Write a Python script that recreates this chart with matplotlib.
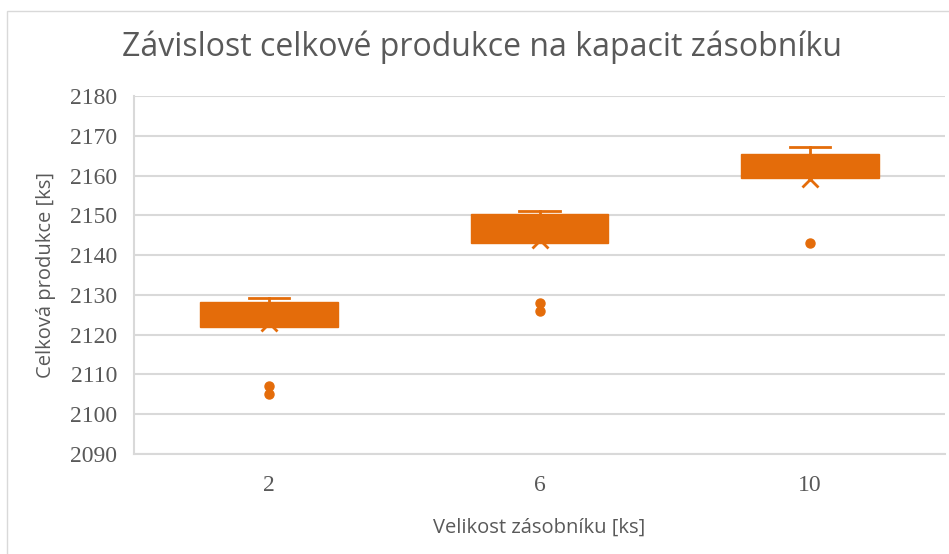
import matplotlib.pyplot as plt
from matplotlib.patches import Rectangle

# values (ks)
categories = ["2", "6", "10"]
q1 = [2122.0, 2143.0, 2159.3]
q3 = [2128.3, 2150.4, 2165.4]
medians = [2126.0, 2148.0, 2163.0]
whisker_hi = [2129.1, 2151.2, 2167.2]
means = [2123.0, 2143.8, 2159.2]
outliers = [[2107.0, 2105.0], [2128.0, 2126.0], [2143.0]]

ORANGE = "#E46C0A"
GRID = "#D9D9D9"
TEXT = "#595959"

stats = []
for i, name in enumerate(categories):
    stats.append(
        dict(
            label=name,
            q1=q1[i],
            q3=q3[i],
            med=medians[i],
            whislo=q1[i],
            whishi=whisker_hi[i],
            mean=means[i],
            fliers=outliers[i],
        )
    )

fig = plt.figure(figsize=(9.49, 5.54), dpi=100)
ax = fig.add_axes([0.141, 0.1805, 0.855, 0.6462])

bp = ax.bxp(
    stats,
    positions=[1, 2, 3],
    widths=0.51,
    patch_artist=True,
    showmeans=True,
    boxprops=dict(facecolor=ORANGE, edgecolor=ORANGE, linewidth=1, zorder=3),
    medianprops=dict(color=ORANGE, linewidth=1, zorder=3),
    whiskerprops=dict(color=ORANGE, linewidth=2),
    capprops=dict(color=ORANGE, linewidth=2),
    capwidths=0.148,
    meanprops=dict(marker="x", markeredgecolor=ORANGE, markersize=11,
                   markeredgewidth=2, zorder=2),
    flierprops=dict(marker="o", markerfacecolor=ORANGE, markeredgecolor=ORANGE,
                    markersize=6.5),
)
# lower whisker coincides with Q1, so no lower cap
for cap in bp["caps"][::2]:
    cap.set_visible(False)

ax.set_xlim(0.5, 3.5)
ax.set_ylim(2090, 2180)
ax.set_yticks(range(2090, 2181, 10))
ax.grid(axis="y", color=GRID, linewidth=1.5)
ax.set_axisbelow(True)

for side in ["top", "right"]:
    ax.spines[side].set_visible(False)
for side in ["left", "bottom"]:
    ax.spines[side].set_color(GRID)
    ax.spines[side].set_linewidth(1.5)

ax.tick_params(axis="both", length=0, colors=TEXT)
ax.tick_params(axis="y", pad=12)
ax.tick_params(axis="x", pad=15)
for lab in ax.get_xticklabels() + ax.get_yticklabels():
    lab.set_family("Liberation Serif")
    lab.set_fontsize(17)

ax.set_xlabel("Velikost zásobníku [ks]", family="Open Sans", fontsize=14.5,
              color=TEXT, labelpad=16)
ax.set_ylabel("Celková produkce [ks]", family="Open Sans", fontsize=14.5,
              color=TEXT, labelpad=10)

fig.text(0.508, 0.915, "Závislost celkové produkce na kapacit zásobníku",
         family="Open Sans", fontsize=23, color=TEXT, ha="center", va="center")

fig.patches.append(
    Rectangle((7 / 949, -0.05), 1.1, 1 - 11 / 554 + 0.05,
              transform=fig.transFigure, fill=False, edgecolor=GRID,
              linewidth=1)
)

fig.savefig("out.png", dpi=100, facecolor="white")
